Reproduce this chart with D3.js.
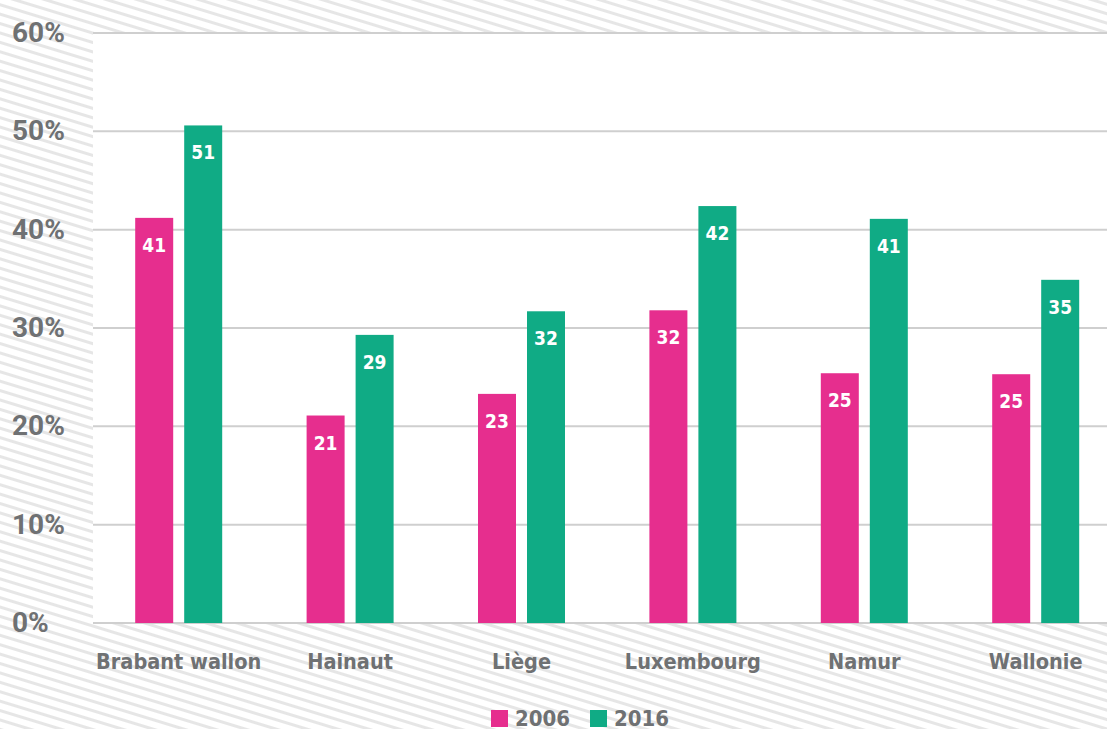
<!DOCTYPE html>
<html>
<head>
<meta charset="utf-8">
<script src="https://cdn.jsdelivr.net/npm/d3@7"></script>
<style>
  body { margin: 0; background: #fff; }
  text { font-family: "Liberation Sans Narrow", "DejaVu Sans Condensed", sans-serif; font-weight: bold; }
</style>
</head>
<body>
<svg id="chart" width="1107" height="729"></svg>
<script>
var categories = ['Brabant wallon', 'Hainaut', 'Liège', 'Luxembourg', 'Namur', 'Wallonie'];
var years = ['2006', '2016'];
var values2006 = [41.2, 21.1, 23.3, 31.8, 25.4, 25.3];
var values2016 = [50.6, 29.3, 31.7, 42.4, 41.1, 34.9];
var labels2006 = [41, 21, 23, 32, 25, 25];
var labels2016 = [51, 29, 32, 42, 41, 35];
var ticks = [0, 10, 20, 30, 40, 50, 60];
var colors = ['#e62e8e', '#10ab85'];

var W = 1107, H = 729;
var svg = d3.select('#chart');

// striped background
var defs = svg.append('defs');
var pat = defs.append('pattern')
  .attr('id', 'stripes')
  .attr('patternUnits', 'userSpaceOnUse')
  .attr('width', 9).attr('height', 9)
  .attr('patternTransform', 'rotate(17)');
pat.append('rect').attr('width', 9).attr('height', 9).attr('fill', '#fff');
pat.append('line').attr('x1', 0).attr('x2', 9).attr('y1', 4.5).attr('y2', 4.5)
  .attr('stroke', '#e6e6e6').attr('stroke-width', 3);
svg.append('rect').attr('width', W).attr('height', H).attr('fill', 'url(#stripes)');

var mLeft = 93, mTop = 33, mBottom = 623;
var y = d3.scaleLinear().domain([0, 60]).range([mBottom, mTop]);
var x = d3.scaleBand().domain(categories).range([mLeft, mLeft + 6 * 171.4]);

// white plot area
svg.append('rect').attr('x', mLeft).attr('y', mTop)
  .attr('width', W - mLeft).attr('height', mBottom - mTop).attr('fill', '#fff');

// gridlines
svg.selectAll('.grid').data(ticks).enter().append('line')
  .attr('x1', mLeft).attr('x2', W)
  .attr('y1', function (d) { return y(d); })
  .attr('y2', function (d) { return y(d); })
  .attr('stroke', '#cfcfcf').attr('stroke-width', 2);

svg.selectAll('.ytick').data(ticks).enter().append('text')
  .attr('x', 12).attr('y', function (d) { return y(d) + 9; })
  .attr('fill', '#6f7173').attr('font-size', 28)
  .style('font-family', 'Roboto, sans-serif')
  .text(function (d) { return d + '%'; });

var barW = 38, off = 24.5;
var series = [values2006, values2016];
var seriesLabels = [labels2006, labels2016];

series.forEach(function (vals, s) {
  var g = svg.append('g');
  var cx = function (d, i) { return x(categories[i]) + x.bandwidth() / 2 + (s === 0 ? -off : off); };
  g.selectAll('rect').data(vals).enter().append('rect')
    .attr('x', function (d, i) { return cx(d, i) - barW / 2; })
    .attr('y', function (d) { return y(d); })
    .attr('width', barW)
    .attr('height', function (d) { return mBottom - y(d); })
    .attr('fill', colors[s]);
  g.selectAll('text').data(vals).enter().append('text')
    .attr('x', function (d, i) { return cx(d, i); })
    .attr('y', function (d) { return y(d) + 34; })
    .attr('text-anchor', 'middle')
    .attr('fill', '#fff').attr('font-size', 19)
    .text(function (d, i) { return seriesLabels[s][i]; });
});

// category labels
svg.selectAll('.cat').data(categories).enter().append('text')
  .attr('x', function (d) { return x(d) + x.bandwidth() / 2; })
  .attr('y', 669)
  .attr('text-anchor', 'middle')
  .attr('fill', '#6f7173').attr('font-size', 21.5)
  .text(function (d) { return d; });

// legend
var legX = [491, 590];
years.forEach(function (yr, i) {
  svg.append('rect').attr('x', legX[i]).attr('y', 710).attr('width', 17).attr('height', 17).attr('fill', colors[i]);
  svg.append('text').attr('x', legX[i] + 24).attr('y', 726)
    .attr('fill', '#6f7173').attr('font-size', 22).text(yr);
});
</script>
</body>
</html>
